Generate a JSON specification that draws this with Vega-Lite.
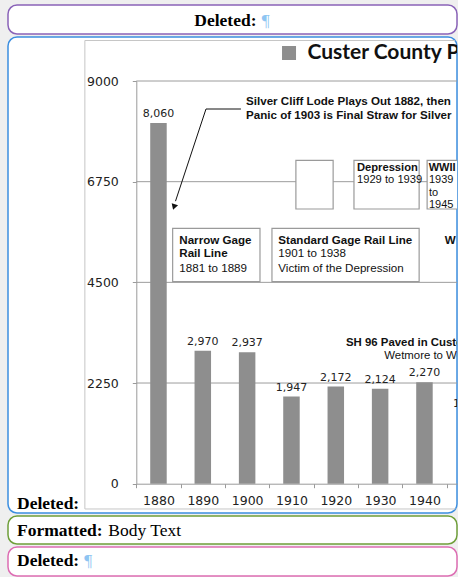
{
  "$schema": "https://vega.github.io/schema/vega-lite/v6.json",
  "background": "#efefef",
  "padding": {"left": 7, "top": 4, "right": 2, "bottom": 0},
  "spacing": 1,
  "config": {
    "view": {"stroke": null},
    "axis": {"grid": false, "labelFont": "DejaVu Sans", "labelFontSize": 12.5, "labelColor": "#222222", "domainColor": "#9a9a9a", "tickColor": "#9a9a9a", "zindex": 1},
    "text": {"font": "Liberation Sans"}
  },
  "datasets": {
    "population": [
      {"year": 1880, "pop": 8060},
      {"year": 1890, "pop": 2970},
      {"year": 1900, "pop": 2937},
      {"year": 1910, "pop": 1947},
      {"year": 1920, "pop": 2172},
      {"year": 1930, "pop": 2124},
      {"year": 1940, "pop": 2270},
      {"year": 1950, "pop": 1573}
    ],
    "gridlines": [{"v": 2250}, {"v": 4500}, {"v": 6750}, {"v": 9000}],
    "boxes": [
      {"name": "blank", "x1": 1911.0, "x2": 1919.4, "y1": 6139, "y2": 7228},
      {"name": "Depression", "x1": 1924.1, "x2": 1938.8, "y1": 6139, "y2": 7228},
      {"name": "WWII", "x1": 1940.6, "x2": 1953, "y1": 6139, "y2": 7228},
      {"name": "Narrow Gage", "x1": 1883.2, "x2": 1902.9, "y1": 4515, "y2": 5708},
      {"name": "Standard Gage", "x1": 1905.6, "x2": 1938.8, "y1": 4515, "y2": 5708}
    ],
    "heads": [
      {"text": "Silver Cliff Lode Plays Out 1882, then", "year": 1899.75, "value": 8524, "tier": "note"},
      {"text": "Panic of 1903 is Final Straw for Silver", "year": 1899.75, "value": 8225, "tier": "note"},
      {"text": "Narrow Gage", "year": 1884.7, "value": 5425, "tier": "note"},
      {"text": "Rail Line", "year": 1884.7, "value": 5127, "tier": "note"},
      {"text": "Standard Gage Rail Line", "year": 1907.03, "value": 5425, "tier": "note"},
      {"text": "W", "year": 1944.6, "value": 5425, "tier": "note"},
      {"text": "SH 96 Paved in Custer County", "year": 1922.3, "value": 3151, "tier": "road"},
      {"text": "Depression", "year": 1924.77, "value": 7062, "tier": "era"},
      {"text": "WWII", "year": 1940.96, "value": 7062, "tier": "war"}
    ],
    "details": [
      {"text": "1881 to 1889", "year": 1884.7, "value": 4805, "tier": "note"},
      {"text": "1901 to 1938", "year": 1907.03, "value": 5127, "tier": "note"},
      {"text": "Victim of the Depression", "year": 1907.03, "value": 4805, "tier": "note"},
      {"text": "Wetmore to Westcliffe", "year": 1930.94, "value": 2854, "tier": "road"},
      {"text": "1929 to 1939", "year": 1924.77, "value": 6781, "tier": "era"},
      {"text": "1939", "year": 1941.0, "value": 6787, "tier": "war"},
      {"text": "to", "year": 1941.0, "value": 6497, "tier": "war"},
      {"text": "1945", "year": 1941.0, "value": 6218, "tier": "war"}
    ],
    "arrow": [
      {"i": 1, "year": 1898.6, "value": 8374},
      {"i": 2, "year": 1890.72, "value": 8374},
      {"i": 3, "year": 1883.84, "value": 6314}
    ],
    "arrowhead": [{"year": 1883.5, "value": 6184}],
    "series": [{"name": "Custer County Population", "year": 1909.45, "value": 9626, "labelYear": 1913.6}],
    "frame": [{"label": "Deleted:"}]
  },
  "vconcat": [
    {
      "width": 449,
      "height": 29,
      "view": {"fill": "white", "stroke": "#8a63b8", "strokeWidth": 1.5, "cornerRadius": 9},
      "data": {"values": [{"a": "Deleted:", "b": "¶"}]},
      "layer": [
        {
          "mark": {"type": "text", "font": "Liberation Serif", "fontWeight": "bold", "fontSize": 17.5, "align": "left", "baseline": "middle", "color": "#000000"},
          "encoding": {"text": {"field": "a"}, "x": {"value": 186.3}, "y": {"value": 16}}
        },
        {
          "mark": {"type": "text", "font": "Liberation Serif", "fontSize": 17.5, "align": "left", "baseline": "middle", "color": "#8ec5f2"},
          "encoding": {"text": {"field": "b"}, "x": {"value": 253.7}, "y": {"value": 16}}
        }
      ]
    },
    {
      "width": 449,
      "height": 476,
      "view": {"fill": "white", "stroke": "#3d8fe0", "strokeWidth": 1.5, "cornerRadius": 9},
      "resolve": {"axis": {"x": "independent", "y": "independent"}},
      "layer": [
        {
          "data": {"values": [{}]},
          "mark": {"type": "rect", "filled": false, "stroke": "#c6c6c6", "strokeWidth": 1, "clip": true},
          "encoding": {
            "x": {"datum": 1863.4, "type": "quantitative", "scale": {"domain": [1875, 1947.34], "range": [128.3, 449], "nice": false, "zero": false, "padding": 0}, "axis": null},
            "x2": {"datum": 1975},
            "y": {"datum": 9905, "type": "quantitative", "scale": {"domain": [0, 9000], "range": [446.7, 44], "nice": false, "padding": 0}, "axis": null},
            "y2": {"datum": -565}
          }
        },
        {
          "data": {"name": "gridlines"},
          "mark": {"type": "rule", "color": "#9c9c9c", "strokeWidth": 1, "clip": true},
          "encoding": {
            "x": {"datum": 1875, "type": "quantitative", "axis": null},
            "x2": {"datum": 1975},
            "y": {"field": "v", "type": "quantitative", "axis": null}
          }
        },
        {
          "data": {"name": "population"},
          "mark": {"type": "bar", "orient": "vertical", "width": 16.5, "color": "#8e8e8e", "clip": true},
          "encoding": {
            "x": {"field": "year", "type": "quantitative", "axis": {"orient": "bottom", "title": null, "values": [1880, 1890, 1900, 1910, 1920, 1930, 1940], "format": "d", "offset": -29.3, "ticks": false, "labelPadding": 11, "domain": true}},
            "y": {"field": "pop", "type": "quantitative", "axis": {"orient": "left", "title": null, "values": [0, 2250, 4500, 6750, 9000], "format": "d", "offset": {"expr": "-128.3"}, "tickSize": 4, "labelPadding": 14}}
          }
        },
        {
          "data": {"name": "population"},
          "mark": {"type": "text", "font": "DejaVu Sans", "fontSize": 11, "baseline": "bottom", "dy": -4, "color": "#222222", "clip": true},
          "encoding": {
            "x": {"field": "year", "type": "quantitative", "axis": null},
            "y": {"field": "pop", "type": "quantitative", "axis": null},
            "text": {"field": "pop", "type": "quantitative", "format": ","}
          }
        },
        {
          "data": {"name": "boxes"},
          "mark": {"type": "rect", "fill": "white", "stroke": "#9a9a9a", "strokeWidth": 1.2, "clip": true},
          "encoding": {
            "x": {"field": "x1", "type": "quantitative", "axis": {"orient": "bottom", "title": null, "values": [1875, 1885, 1895, 1905, 1915, 1925, 1935, 1945], "labels": false, "domain": false, "ticks": true, "tickSize": 4, "offset": -29.3}},
            "x2": {"field": "x2"},
            "y": {"field": "y1", "type": "quantitative", "axis": null},
            "y2": {"field": "y2"}
          }
        },
        {
          "data": {"name": "arrow"},
          "mark": {"type": "line", "color": "#111111", "strokeWidth": 1, "clip": true},
          "encoding": {
            "x": {"field": "year", "type": "quantitative", "axis": null},
            "y": {"field": "value", "type": "quantitative", "axis": null},
            "order": {"field": "i", "type": "quantitative"}
          }
        },
        {
          "data": {"name": "arrowhead"},
          "mark": {"type": "point", "shape": "triangle-down", "filled": true, "color": "#111111", "opacity": 1, "size": 45, "angle": 18, "clip": true},
          "encoding": {
            "x": {"field": "year", "type": "quantitative", "axis": null},
            "y": {"field": "value", "type": "quantitative", "axis": null}
          }
        },
        {
          "data": {"name": "heads"},
          "mark": {"type": "text", "font": "Liberation Sans", "fontWeight": "bold", "align": "left", "baseline": "middle", "color": "#111111", "clip": true},
          "encoding": {
            "x": {"field": "year", "type": "quantitative", "axis": null},
            "y": {"field": "value", "type": "quantitative", "axis": null},
            "text": {"field": "text"},
            "size": {"field": "tier", "type": "nominal", "scale": {"domain": ["note", "road", "era", "war"], "range": [11.6, 11, 9, 7.2]}, "legend": null}
          }
        },
        {
          "data": {"name": "details"},
          "mark": {"type": "text", "font": "Liberation Sans", "align": "left", "baseline": "middle", "color": "#111111", "clip": true},
          "encoding": {
            "x": {"field": "year", "type": "quantitative", "axis": null},
            "y": {"field": "value", "type": "quantitative", "axis": null},
            "text": {"field": "text"},
            "size": {"field": "tier", "type": "nominal", "scale": {"domain": ["note", "road", "era", "war"], "range": [11.6, 11, 9, 7.2]}, "legend": null}
          }
        },
        {
          "data": {"name": "series"},
          "mark": {"type": "point", "shape": "square", "filled": true, "color": "#8e8e8e", "opacity": 1, "size": 196, "clip": true},
          "encoding": {
            "x": {"field": "year", "type": "quantitative", "axis": null},
            "y": {"field": "value", "type": "quantitative", "axis": null}
          }
        },
        {
          "data": {"name": "series"},
          "mark": {"type": "text", "font": "Lato", "fontWeight": "bold", "fontSize": 21, "align": "left", "baseline": "middle", "color": "#111111", "clip": true},
          "encoding": {
            "x": {"field": "labelYear", "type": "quantitative", "axis": null},
            "y": {"field": "value", "type": "quantitative", "axis": null},
            "text": {"field": "name"}
          }
        },
        {
          "data": {"name": "frame"},
          "mark": {"type": "text", "font": "Liberation Serif", "fontWeight": "bold", "fontSize": 17.5, "align": "left", "baseline": "middle", "color": "#000000"},
          "encoding": {"text": {"field": "label"}, "x": {"value": 9}, "y": {"value": 467}}
        }
      ]
    },
    {
      "width": 449,
      "height": 28,
      "view": {"fill": "white", "stroke": "#6f9f3a", "strokeWidth": 1.5, "cornerRadius": 9},
      "data": {"values": [{"a": "Formatted:", "b": "Body Text"}]},
      "layer": [
        {
          "mark": {"type": "text", "font": "Liberation Serif", "fontWeight": "bold", "fontSize": 17.5, "align": "left", "baseline": "middle", "color": "#000000"},
          "encoding": {"text": {"field": "a"}, "x": {"value": 9}, "y": {"value": 15}}
        },
        {
          "mark": {"type": "text", "font": "Liberation Serif", "fontSize": 17.5, "align": "left", "baseline": "middle", "color": "#000000"},
          "encoding": {"text": {"field": "b"}, "x": {"value": 100.3}, "y": {"value": 15}}
        }
      ]
    },
    {
      "width": 449,
      "height": 29,
      "view": {"fill": "white", "stroke": "#dd6db3", "strokeWidth": 1.5, "cornerRadius": 9},
      "data": {"values": [{"a": "Deleted:", "b": "¶"}]},
      "layer": [
        {
          "mark": {"type": "text", "font": "Liberation Serif", "fontWeight": "bold", "fontSize": 17.5, "align": "left", "baseline": "middle", "color": "#000000"},
          "encoding": {"text": {"field": "a"}, "x": {"value": 9}, "y": {"value": 14}}
        },
        {
          "mark": {"type": "text", "font": "Liberation Serif", "fontSize": 17.5, "align": "left", "baseline": "middle", "color": "#8ec5f2"},
          "encoding": {"text": {"field": "b"}, "x": {"value": 76.3}, "y": {"value": 14}}
        }
      ]
    }
  ]
}
